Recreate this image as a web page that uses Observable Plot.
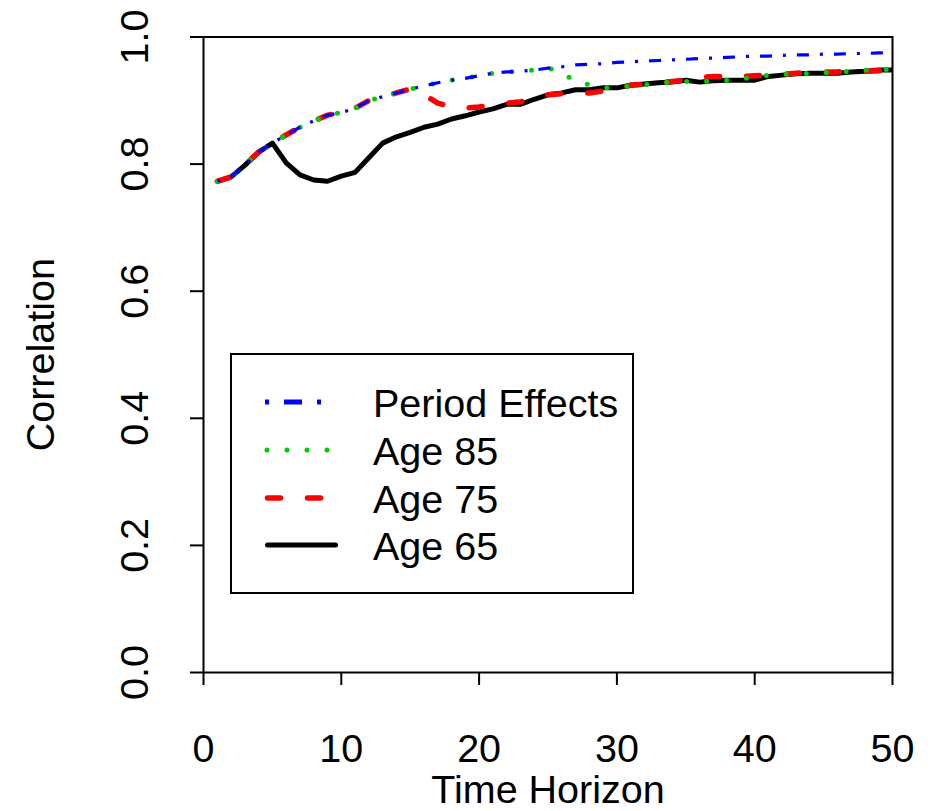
<!DOCTYPE html>
<html><head><meta charset="utf-8">
<script src="https://cdn.jsdelivr.net/npm/d3@7"></script>
<script src="https://cdn.jsdelivr.net/npm/@observablehq/plot@0.6"></script>
<style>
html,body{margin:0;padding:0;background:#fff}
#wrap{position:relative;width:931px;height:811px;overflow:hidden}
#legend{position:absolute;left:0;top:0;pointer-events:none}
</style>
</head><body><div id="wrap"></div>
<script>
const horizon = [1,2,3,4,5,6,7,8,9,10,11,12,13,14,15,16,17,18,19,20,21,22,23,24,25,26,27,28,29,30,31,32,33,34,35,36,37,38,39,40,41,42,43,44,45,46,47,48,49,50];
const periodEffects = [0.773,0.780,0.798,0.819,0.833,0.846,0.858,0.868,0.877,0.881,0.888,0.900,0.906,0.912,0.918,0.923,0.928,0.932,0.935,0.939,0.943,0.945,0.946,0.948,0.951,0.953,0.956,0.957,0.958,0.960,0.961,0.962,0.963,0.964,0.965,0.966,0.967,0.968,0.969,0.970,0.970,0.971,0.972,0.972,0.973,0.973,0.974,0.974,0.975,0.975];
const age85 = [0.773,0.780,0.798,0.819,0.833,0.846,0.858,0.868,0.877,0.881,0.888,0.900,0.906,0.912,0.918,0.923,0.928,0.932,0.935,0.939,0.943,0.945,0.946,0.948,0.951,0.945,0.929,0.925,0.920,0.921,0.923,0.925,0.927,0.929,0.930,0.930,0.931,0.932,0.934,0.937,0.940,0.941,0.942,0.943,0.944,0.945,0.946,0.948,0.949,0.949];
const age75 = [0.773,0.780,0.798,0.819,0.833,0.846,0.858,0.868,0.877,0.881,0.888,0.900,0.906,0.912,0.918,0.909,0.896,0.890,0.888,0.890,0.893,0.896,0.898,0.902,0.909,0.911,0.912,0.912,0.915,0.920,0.924,0.926,0.928,0.930,0.932,0.936,0.938,0.938,0.938,0.939,0.940,0.941,0.943,0.944,0.945,0.945,0.946,0.946,0.947,0.948];
const age65 = [0.773,0.780,0.798,0.819,0.833,0.802,0.783,0.775,0.773,0.781,0.787,0.810,0.833,0.843,0.850,0.858,0.863,0.871,0.876,0.882,0.887,0.894,0.894,0.902,0.909,0.912,0.917,0.917,0.920,0.920,0.924,0.926,0.928,0.929,0.932,0.929,0.931,0.932,0.932,0.932,0.938,0.940,0.942,0.943,0.943,0.943,0.945,0.946,0.948,0.948];

const seriesNames = ["Period Effects", "Age 85", "Age 75", "Age 65"];
const seriesColors = ["#0000FF", "#00CD00", "#FF0000", "#000000"];
const xTicks = [0, 10, 20, 30, 40, 50];
const yTicks = [0, 0.2, 0.4, 0.6, 0.8, 1.0];
const xLabel = "Time Horizon";
const yLabel = "Correlation";

const seriesValues = [periodEffects, age85, age75, age65];
const rows = seriesNames.map((name, i) => horizon.map((h, j) => ({series: name, x: h, y: seriesValues[i][j]})));

const FONT = "'Liberation Sans', Arial, Helvetica, sans-serif";
const FS = 39.5;

const chart = Plot.plot({
  width: 931,
  height: 811,
  marginLeft: 203,
  marginRight: 39,
  marginTop: 36.5,
  marginBottom: 139,
  style: {fontFamily: FONT, background: "white", color: "black", overflow: "visible"},
  x: {domain: [0, 50]},
  y: {domain: [0, 1]},
  marks: [
    Plot.axisX({ticks: xTicks, tickSize: 13, tickPadding: 48, fontSize: FS, strokeWidth: 2, label: null, tickFormat: d3.format("d")}),
    Plot.axisY({ticks: yTicks, tickSize: 13, tickPadding: 43, tickRotate: -90, fontSize: FS, strokeWidth: 2, label: null, tickFormat: d3.format(".1f")}),
    Plot.text([yLabel], {text: d => d, frameAnchor: "left", dx: -162, rotate: -90, fontSize: FS, lineAnchor: "middle", textAnchor: "middle"}),
    Plot.text([xLabel], {text: d => d, frameAnchor: "bottom", dy: 130, fontSize: FS, lineAnchor: "bottom", textAnchor: "middle"}),
    Plot.line(rows[3], {x: "x", y: "y", stroke: seriesColors[3], strokeWidth: 5, strokeLinejoin: "round", strokeLinecap: "butt"}),
    Plot.line(rows[2], {x: "x", y: "y", stroke: seriesColors[2], strokeWidth: 5.5, strokeLinecap: "round", strokeLinejoin: "round", strokeDasharray: "13 27"}),
    Plot.line(rows[1], {x: "x", y: "y", stroke: seriesColors[1], strokeWidth: 5, strokeLinecap: "round", strokeDasharray: "0 20"}),
    Plot.line(rows[0], {x: "x", y: "y", stroke: seriesColors[0], strokeWidth: 3.2, strokeLinecap: "butt", strokeDasharray: "3 11 12 11"}),
    Plot.frame({stroke: "black", strokeWidth: 2})
  ]
});

const wrap = document.getElementById("wrap");
wrap.appendChild(chart);

// Legend overlay
const ns = "http://www.w3.org/2000/svg";
const lg = document.createElementNS(ns, "svg");
lg.setAttribute("id", "legend");
lg.setAttribute("width", 931);
lg.setAttribute("height", 811);
const box = document.createElementNS(ns, "rect");
box.setAttribute("x", 231); box.setAttribute("y", 354);
box.setAttribute("width", 402); box.setAttribute("height", 239);
box.setAttribute("fill", "white"); box.setAttribute("stroke", "black"); box.setAttribute("stroke-width", 2);
lg.appendChild(box);
const legendStyles = [
  {x1: 265, x2: 323, w: 5, cap: "butt", dash: "4 15 18 15"},
  {x1: 267, x2: 328, w: 5, cap: "round", dash: "0 20"},
  {x1: 267.5, x2: 320.5, w: 5.5, cap: "round", dash: "13 27"},
  {x1: 267.5, x2: 335.5, w: 5, cap: "round", dash: null}
];
const rowY = [402, 450, 498, 545];
seriesNames.forEach((name, i) => {
  const s = legendStyles[i];
  const ln = document.createElementNS(ns, "line");
  ln.setAttribute("x1", s.x1); ln.setAttribute("x2", s.x2);
  ln.setAttribute("y1", rowY[i]); ln.setAttribute("y2", rowY[i]);
  ln.setAttribute("stroke", seriesColors[i]);
  ln.setAttribute("stroke-width", s.w);
  ln.setAttribute("stroke-linecap", s.cap);
  if (s.dash) ln.setAttribute("stroke-dasharray", s.dash);
  lg.appendChild(ln);
  const t = document.createElementNS(ns, "text");
  t.setAttribute("x", 373); t.setAttribute("y", rowY[i] + 14.5);
  t.setAttribute("font-family", FONT); t.setAttribute("font-size", FS);
  t.setAttribute("fill", "black");
  t.textContent = name;
  lg.appendChild(t);
});
wrap.appendChild(lg);
</script>
</body></html>
